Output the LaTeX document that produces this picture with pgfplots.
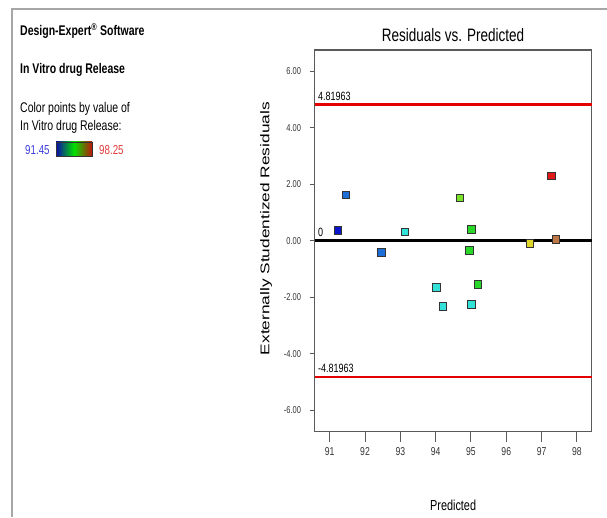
\documentclass[border=0pt]{standalone}
\usepackage{fontspec}
\usepackage{graphicx}
\setmainfont{Liberation Sans}[FakeStretch=0.75]
\newfontfamily\ylabfont{Liberation Sans}
\usepackage{pgfplots}
\pgfplotsset{compat=1.18}
\definecolor{c1}{RGB}{10,20,200}
\definecolor{c2}{RGB}{30,110,215}
\definecolor{c3}{RGB}{50,225,215}
\definecolor{c4}{RGB}{40,215,40}
\definecolor{c5}{RGB}{120,225,40}
\definecolor{c6}{RGB}{225,215,40}
\definecolor{c7}{RGB}{190,120,70}
\definecolor{c8}{RGB}{225,25,25}
\definecolor{framegray}{RGB}{90,90,90}
\definecolor{lowblue}{RGB}{60,60,220}
\definecolor{highred}{RGB}{225,60,60}
\definecolor{gradblue}{RGB}{10,10,170}
\definecolor{gradgreen}{RGB}{0,225,0}
\definecolor{gradred}{RGB}{190,20,10}
\begin{document}
\begin{tikzpicture}
\path[use as bounding box] (0,0) rectangle (607pt,517pt);
% outer frame
\draw[gray!70, line width=1.5pt] (12pt,0) -- (12pt,508pt) -- (607pt,508pt);
% left panel text
\node[anchor=base west, inner sep=0pt, font=\bfseries\fontsize{14}{16}\selectfont] at (20pt,481pt) {Design-Expert\textsuperscript{\textregistered} Software};
\node[anchor=base west, inner sep=0pt, font=\bfseries\fontsize{14}{16}\selectfont] at (20pt,443pt) {In Vitro drug Release};
\node[anchor=base west, inner sep=0pt, font=\fontsize{14}{16}\selectfont] at (20pt,404pt) {Color points by value of};
\node[anchor=base west, inner sep=0pt, font=\fontsize{14}{16}\selectfont] at (20pt,386.5pt) {In Vitro drug Release:};
\node[anchor=base west, inner sep=0pt, text=lowblue, font=\fontsize{13}{15}\selectfont] at (25pt,362pt) {91.45};
\node[anchor=base west, inner sep=0pt, text=highred, font=\fontsize{13}{15}\selectfont] at (99pt,362pt) {98.25};
\shade[left color=gradblue, right color=gradred, middle color=gradgreen] (56pt,361pt) rectangle (92pt,375pt);
\draw[black!80, line width=0.8pt] (56pt,361pt) rectangle (92pt,375pt);
\begin{axis}[
  at={(314.5pt,85.3pt)}, anchor=south west,
  scale only axis, width=277.2pt, height=381.7pt,
  xmin=90.57, xmax=98.42, ymin=-6.75, ymax=6.75,
  xtick={91,92,...,98}, ytick={-6,-4,...,6},
  axis line style={framegray, line width=1.5pt},
  tick align=outside, major tick length=10pt,
  xtick style={framegray, line width=1pt},
  ytick style={framegray, line width=1pt, /pgfplots/major tick length=5pt},
  xtick pos=bottom, ytick pos=left,
  /pgf/number format/assume math mode=true,
  xticklabel style={font=\fontsize{11.5}{13}\selectfont, text=black!80, yshift=-2pt},
  yticklabel style={font=\fontsize{10}{12}\selectfont, text=black!80, /pgf/number format/.cd, fixed, fixed zerofill, precision=2},
  title={Residuals vs. Predicted},
  every axis title/.style={at={(axis description cs:0.5,1)}, anchor=center, yshift=15pt, font=\fontsize{18}{20}\selectfont},
  xlabel={Predicted},
  every axis x label/.style={at={(axis description cs:0.5,0)}, anchor=center, yshift=-73.3pt, font=\fontsize{14.5}{16}\selectfont},
  ylabel={\scalebox{1}[0.73]{\ylabfont\fontsize{17.3}{20}\selectfont Externally Studentized Residuals}},
  every axis y label/.style={at={(axis description cs:-0.175,0.532)}, anchor=center, rotate=90},
  clip=false,
]
\addplot[red!90!black, line width=2.2pt] coordinates {(90.57,4.81963) (98.42,4.81963)};
\addplot[red!90!black, line width=2.2pt] coordinates {(90.57,-4.81963) (98.42,-4.81963)};
\addplot[black, line width=2.8pt] coordinates {(90.57,0) (98.42,0)};
\node[anchor=south west, inner sep=0pt, font=\fontsize{12}{14}\selectfont] at (axis cs:90.57,4.81963) [xshift=3.5pt, yshift=4pt] {4.81963};
\node[anchor=south west, inner sep=0pt, font=\fontsize{12}{14}\selectfont] at (axis cs:90.57,-4.81963) [xshift=3.5pt, yshift=4pt] {-4.81963};
\node[anchor=south west, inner sep=0pt, font=\fontsize{12}{14}\selectfont] at (axis cs:90.57,0) [xshift=3.5pt, yshift=4.5pt] {0};
\addplot[scatter, only marks, scatter src=explicit symbolic, mark size=3.8pt,
  scatter/classes={
    a={mark=square*, fill=c1, draw=black!80},
    b={mark=square*, fill=c2, draw=black!80},
    c={mark=square*, fill=c3, draw=black!80},
    d={mark=square*, fill=c4, draw=black!80},
    e={mark=square*, fill=c5, draw=black!80},
    f={mark=square*, fill=c6, draw=black!80},
    g={mark=square*, fill=c7, draw=black!80},
    h={mark=square*, fill=c8, draw=black!80}},
  mark options={line width=0.9pt}]
table[meta=c] {
x y c
91.23 0.37 a
91.46 1.63 b
92.46 -0.40 b
93.13 0.32 c
94.02 -1.64 c
94.21 -2.31 c
95.02 -2.24 c
94.69 1.52 e
95.02 0.41 d
94.96 -0.34 d
95.20 -1.54 d
96.67 -0.09 f
97.41 0.06 g
97.28 2.30 h
};
\end{axis}
\end{tikzpicture}
\end{document}
